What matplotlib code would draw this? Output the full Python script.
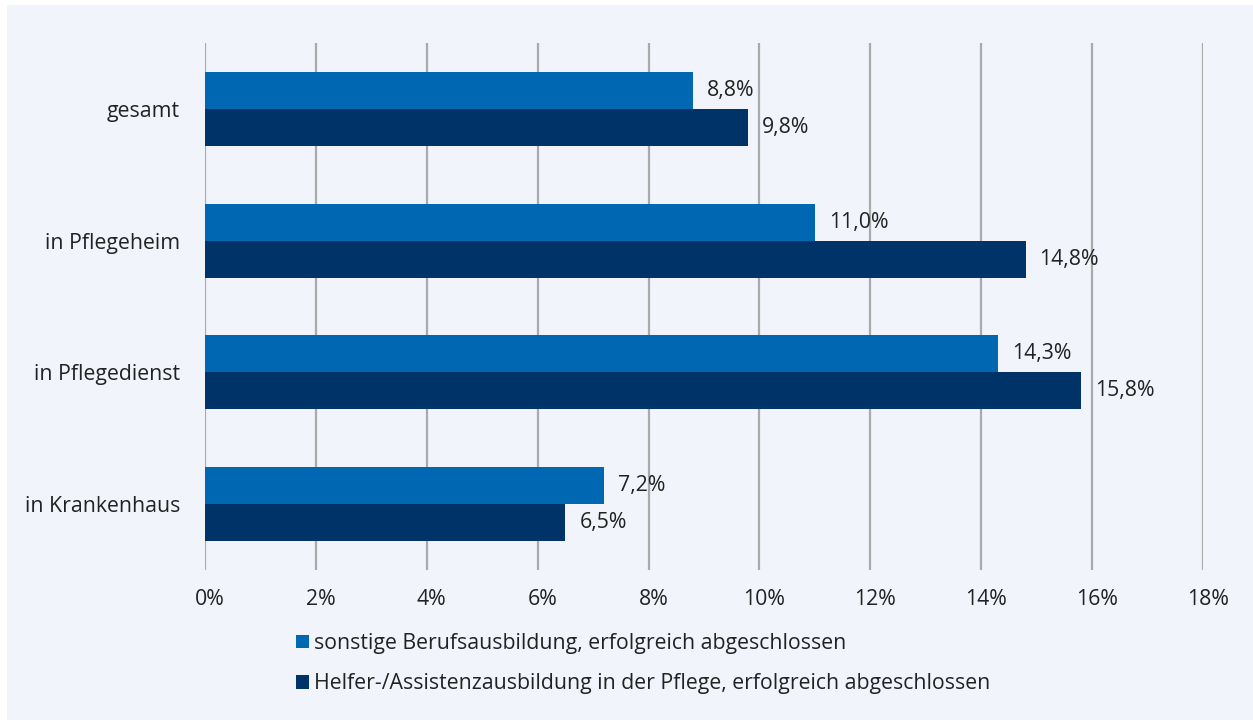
import matplotlib.pyplot as plt
import matplotlib.transforms as mtransforms
import numpy as np
from matplotlib.patches import Rectangle

plt.rcParams['font.family'] = ['Open Sans', 'DejaVu Sans']

categories = ['gesamt', 'in Pflegeheim', 'in Pflegedienst', 'in Krankenhaus']
sonstige = [8.8, 11.0, 14.3, 7.2]
helfer = [9.8, 14.8, 15.8, 6.5]
series_labels = [
    'sonstige Berufsausbildung, erfolgreich abgeschlossen',
    'Helfer-/Assistenzausbildung in der Pflege, erfolgreich abgeschlossen',
]
x_ticks = list(range(0, 19, 2))

COLOR_LIGHT = '#0068b3'
COLOR_DARK = '#003368'
BG = '#f1f4fb'
TEXT = '#222222'
FS = 15.3

fig = plt.figure(figsize=(12.53, 7.2), dpi=100, facecolor='white')
fig.patches.append(Rectangle((7 / 1253, 0), 1 - 7 / 1253, 1 - 5 / 720,
                             transform=fig.transFigure, facecolor=BG,
                             edgecolor='none', zorder=-10))

ax = fig.add_axes([205 / 1253, 1 - 570 / 720, 998 / 1253, 527 / 720])
ax.set_facecolor('none')

y = np.arange(len(categories))
h = 0.28
b1 = ax.barh(y - h / 2, sonstige, height=h, color=COLOR_LIGHT, label=series_labels[0], zorder=3)
b2 = ax.barh(y + h / 2, helfer, height=h, color=COLOR_DARK, label=series_labels[1], zorder=3)

# value labels right of each bar, German decimal comma
for bars, vals in ((b1, sonstige), (b2, helfer)):
    for bar, v in zip(bars, vals):
        ax.annotate(f'{v:.1f}%'.replace('.', ','),
                    (v, bar.get_y() + bar.get_height() / 2),
                    xytext=(14, 0), textcoords='offset pixels',
                    va='center', ha='left', fontsize=FS, color=TEXT)

ax.set_xlim(0, 18)
ax.set_ylim(len(categories) - 0.5, -0.5)
ax.set_xticks(x_ticks)
ax.set_xticklabels([f'{t}%' for t in x_ticks], fontsize=FS, color=TEXT)
ax.set_yticks(y)
ax.set_yticklabels(categories, fontsize=FS, color=TEXT)
ax.tick_params(axis='both', length=0)
ax.tick_params(axis='x', pad=14)
ax.tick_params(axis='y', pad=18)
ax.grid(axis='x', color='#aaaaaa', linewidth=1.6, zorder=0)
for s in ax.spines.values():
    s.set_visible(False)

# nudge the percent tick labels slightly to the right
shift = mtransforms.ScaledTranslation(5 / 100, 0, fig.dpi_scale_trans)
for lbl in ax.get_xticklabels():
    lbl.set_transform(lbl.get_transform() + shift)

fig.legend(handles=[b1, b2], labels=series_labels, loc='upper left',
           bbox_to_anchor=(277 / 1253, 1 - 614 / 720), frameon=False,
           fontsize=FS, handlelength=0.6, handleheight=0.6, handletextpad=0.25,
           labelspacing=0.9, labelcolor=TEXT)

fig.savefig('out.png', dpi=100, facecolor='white')
